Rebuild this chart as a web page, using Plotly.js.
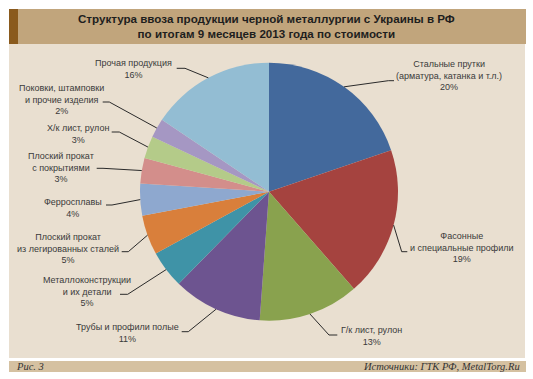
<!DOCTYPE html>
<html><head><meta charset="utf-8">
<script src="https://cdn.plot.ly/plotly-3.0.1.min.js"></script>
<style>html,body{margin:0;padding:0;background:#fff}#chart{width:533px;height:379px}</style>
</head><body><div id="chart"></div>
<script>
// ---- data ----
const categories = ['Стальные прутки<br>(арматура, катанка и т.л.)', 'Фасонные<br>и специальные профили', 'Г/к лист, рулон', 'Трубы и профили полые', 'Металлоконструкции<br>и их детали', 'Плоский прокат<br>из легированных сталей', 'Ферросплавы', 'Плоский прокат<br>с покрытиями', 'Х/к лист, рулон', 'Поковки, штамповки<br>и прочие изделия', 'Прочая продукция'];
const shares = [19.8, 18.8, 12.6, 11.2, 4.7, 5.0, 4.0, 3.2, 2.8, 2.4, 15.6];
const colors = ['#43699c', '#a5433f', '#89a24e', '#6d5490', '#3f93a7', '#d97f3b', '#8ea8cf', '#d38e8b', '#b4cb89', '#a597c3', '#93bdd3'];
const titleText = 'Структура ввоза продукции черной металлургии с Украины в РФ<br>по итогам 9 месяцев 2013 года по стоимости';
const figText = 'Рис. 3';
const sourceText = 'Источники: ГТК РФ, MetalTorg.Ru';

// ---- layout helpers (pixel -> paper) ----
const W = 533, H = 379;
const px = x => x / W, py = y => 1 - y / H;
const CX = 269, CY = 191.7, R = 129;
// label block centers and leader elbows (layout only)
const labelPos = [[449, 75.7], [461.7, 247], [371, 336], [127, 333], [87, 291], [67.5, 248], [73, 207.5], [60.5, 167.5], [77.5, 134], [61.5, 100], [133.5, 69.5]];
const leaderStart = [[394, 80.7], [407.3, 251.7], [337.3, 335], [181.7, 331.7], [120, 294.3], [121.7, 251.7], [106, 205], [96.7, 168.3], [111.7, 132], [102.7, 102], [176.7, 68.3]];
const leaderElbow = [[388.3, 80.7], [401.7, 251.7], [329, 335], [188.3, 331.7], [127.7, 294.3], [128.3, 251.7], [112, 205], [103, 168.3], [119.3, 132], [109.3, 102], [185, 68.3]];

const total = shares.reduce((a, b) => a + b, 0);
const shapes = [
  {type: 'rect', xref: 'paper', yref: 'paper', x0: px(9), x1: px(525), y0: py(358), y1: py(44), fillcolor: '#e9dfd0', line: {width: 0}, layer: 'below'},
  {type: 'rect', xref: 'paper', yref: 'paper', x0: px(9), x1: px(526), y0: py(44), y1: py(9), fillcolor: '#c1a57c', line: {width: 0}, layer: 'below'},
  {type: 'rect', xref: 'paper', yref: 'paper', x0: px(9), x1: px(18), y0: py(44), y1: py(9), fillcolor: '#8a5a1d', line: {width: 0}, layer: 'below'},
  {type: 'rect', xref: 'paper', yref: 'paper', x0: px(9), x1: px(526), y0: py(372), y1: py(361), fillcolor: '#d5c1a1', line: {width: 0}, layer: 'below'}
];
const annotations = [
  {xref: 'paper', yref: 'paper', x: px(266.5), y: py(25.8), text: titleText, showarrow: false, xanchor: 'center', yanchor: 'middle',
   font: {family: 'Liberation Sans, Arial', size: 11.6, color: '#1e1e1e', weight: 'bold'}},
  {xref: 'paper', yref: 'paper', x: px(14), y: py(366.5), text: '<i>' + figText + '</i>', showarrow: false, xanchor: 'left', yanchor: 'middle',
   font: {family: 'Liberation Serif, Times New Roman', size: 10.5, color: '#333'}},
  {xref: 'paper', yref: 'paper', x: px(522), y: py(366.5), text: '<i>' + sourceText + '</i>', showarrow: false, xanchor: 'right', yanchor: 'middle',
   font: {family: 'Liberation Serif, Times New Roman', size: 10.5, color: '#333'}}
];
let cum = 0;
shares.forEach((v, i) => {
  const mid = (cum + v / 2) / total; cum += v;
  const th = mid * 2 * Math.PI;
  const ax = CX + R * Math.sin(th), ay = CY - R * Math.cos(th);
  const s = leaderStart[i], e = leaderElbow[i];
  shapes.push({type: 'path', xref: 'paper', yref: 'paper', layer: 'above',
    path: `M ${px(s[0])} ${py(s[1])} L ${px(e[0])} ${py(e[1])} L ${px(ax)} ${py(ay)}`,
    line: {color: '#2a2a2a', width: 1}});
  const pct = Math.round(v / total * 100) + '%';
  annotations.push({xref: 'paper', yref: 'paper', x: px(labelPos[i][0]), y: py(labelPos[i][1]),
    text: categories[i] + '<br>' + pct, showarrow: false, xanchor: 'center', yanchor: 'middle', align: 'center',
    font: {family: 'Liberation Sans, Arial', size: 9, color: '#3a3a3a'}});
});

const trace = {
  type: 'pie', labels: categories, values: shares, sort: false, direction: 'clockwise', rotation: 0,
  marker: {colors: colors, line: {width: 0}}, textinfo: 'none', hoverinfo: 'label+percent',
  domain: {x: [px(CX - R), px(CX + R)], y: [py(CY + R), py(CY - R)]}, showlegend: false
};
Plotly.newPlot('chart', [trace], {
  width: W, height: H, margin: {l: 0, r: 0, t: 0, b: 0}, paper_bgcolor: '#ffffff',
  shapes: shapes, annotations: annotations, showlegend: false
}, {displayModeBar: false, staticPlot: true});
</script></body></html>
